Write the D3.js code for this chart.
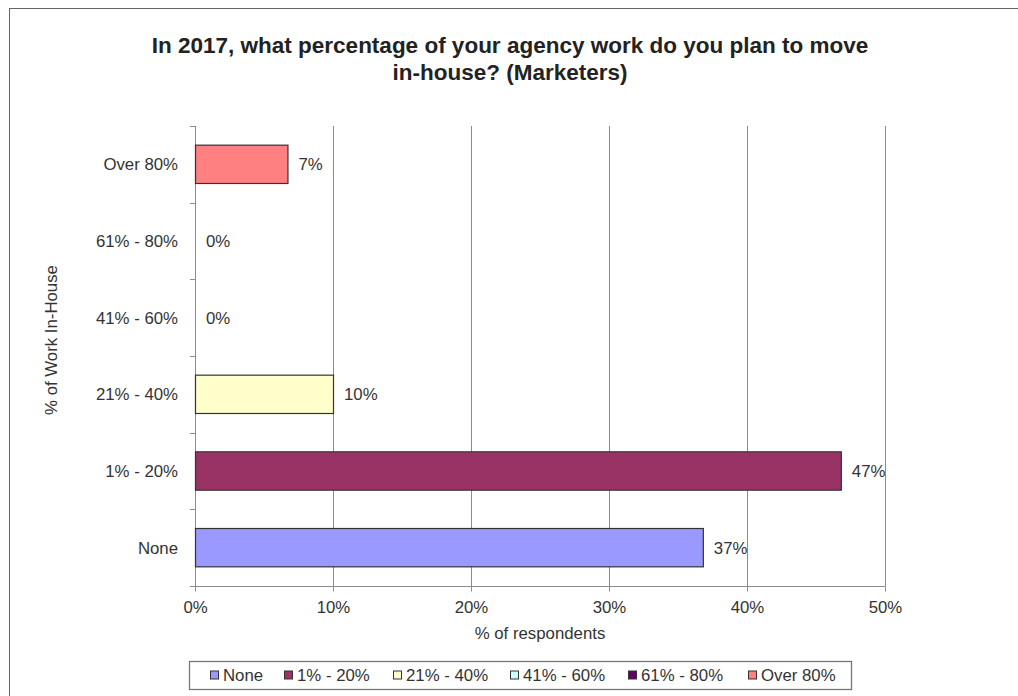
<!DOCTYPE html>
<html>
<head>
<meta charset="utf-8">
<script src="https://cdn.jsdelivr.net/npm/d3@7"></script>
<style>
  html, body { margin: 0; padding: 0; background: #fff; }
  svg { display: block; font-family: "Liberation Sans", Arial, sans-serif; }
</style>
</head>
<body>
<svg id="chart" width="1018" height="696"></svg>
<script>
// Survey answers, bottom to top on the category axis
const categories = ["None", "1% - 20%", "21% - 40%", "41% - 60%", "61% - 80%", "Over 80%"];
const values = [36.8, 46.8, 10.0, 0, 0, 6.7];
const barColors = ["#9999FF", "#993366", "#FFFFCC", "#CCFFFF", "#660066", "#FF8080"];
const xTicks = [0, 10, 20, 30, 40, 50];
const titleLines = ["In 2017, what percentage of your agency work do you plan to move", "in-house? (Marketers)"];

const svg = d3.select("#chart");
const margin = { left: 195, right: 133, top: 126, bottom: 110 };
const W = 1018, H = 696;
const plotW = W - margin.left - margin.right;
const plotH = H - margin.top - margin.bottom;
const labelSize = 16.8;
const textColor = "#333";
const lineColor = "#8c8c8c";

// outer frame
svg.append("rect")
  .attr("x", 9.5).attr("y", 8.5)
  .attr("width", W + 10).attr("height", H + 10)
  .attr("fill", "none").attr("stroke", "#666").attr("stroke-width", 1);

// title
svg.append("g").selectAll("text").data(titleLines).join("text")
  .attr("x", 510).attr("y", (d, i) => 53 + i * 27)
  .attr("text-anchor", "middle")
  .attr("font-size", 22.5).attr("font-weight", "bold").attr("fill", "#222")
  .text(d => d);

const x = d3.scaleLinear().domain([0, 50]).range([0, plotW]);
const y = d3.scaleBand().domain(categories.slice().reverse()).range([0, plotH]).paddingInner(0.5).paddingOuter(0.25);
const yEdges = d3.scaleLinear().domain([0, categories.length]).range([0, plotH]);

const g = svg.append("g").attr("transform", `translate(${margin.left},${margin.top})`);

// vertical gridlines
g.append("g").selectAll("line").data(xTicks.slice(1)).join("line")
  .attr("x1", d => Math.round(x(d)) + 0.5).attr("x2", d => Math.round(x(d)) + 0.5)
  .attr("y1", 0).attr("y2", plotH)
  .attr("stroke", lineColor).attr("stroke-width", 1);

// x axis
const xAxis = g.append("g").attr("transform", `translate(0,${plotH + 0.5})`)
  .call(d3.axisBottom(x).tickValues(xTicks).tickFormat(d => d + "%").tickSize(5).tickPadding(10));
xAxis.select(".domain").attr("stroke", lineColor).attr("d", `M0.5,0H${plotW + 0.5}`);
xAxis.selectAll(".tick line").attr("stroke", lineColor);
xAxis.selectAll("text").attr("font-size", labelSize).attr("fill", textColor).attr("font-family", "Liberation Sans, Arial, sans-serif");

// y axis line and ticks at category boundaries
g.append("line").attr("x1", 0.5).attr("x2", 0.5).attr("y1", 0).attr("y2", plotH + 5)
  .attr("stroke", lineColor);
g.append("g").selectAll("line").data(d3.range(categories.length + 1)).join("line")
  .attr("x1", -5).attr("x2", 0.5)
  .attr("y1", d => Math.round(yEdges(d)) + 0.5).attr("y2", d => Math.round(yEdges(d)) + 0.5)
  .attr("stroke", lineColor);

// category labels
g.append("g").selectAll("text").data(categories).join("text")
  .attr("x", -17).attr("y", d => y(d) + y.bandwidth() / 2)
  .attr("dy", "0.35em").attr("text-anchor", "end")
  .attr("font-size", labelSize).attr("fill", textColor)
  .text(d => d);

// bars
g.append("g").selectAll("rect").data(categories.map((c, i) => ({ c, v: values[i], color: barColors[i] })).filter(d => d.v > 0))
  .join("rect")
  .attr("x", 0.5).attr("y", d => y(d.c))
  .attr("width", d => x(d.v)).attr("height", y.bandwidth())
  .attr("fill", d => d.color).attr("stroke", "#333").attr("stroke-width", 1.2);

// value labels
g.append("g").selectAll("text").data(categories.map((c, i) => ({ c, v: values[i] })))
  .join("text")
  .attr("x", d => x(d.v) + 11).attr("y", d => y(d.c) + y.bandwidth() / 2)
  .attr("dy", "0.35em")
  .attr("font-size", labelSize).attr("fill", textColor)
  .text(d => Math.round(d.v) + "%");

// axis titles
svg.append("text").attr("x", margin.left + plotW / 2).attr("y", 639)
  .attr("text-anchor", "middle").attr("font-size", labelSize).attr("fill", textColor)
  .text("% of respondents");
svg.append("text").attr("transform", `translate(57,340) rotate(-90)`)
  .attr("text-anchor", "middle").attr("font-size", labelSize).attr("fill", textColor)
  .text("% of Work In-House");

// legend
const legend = svg.append("g");
legend.append("rect").attr("x", 189.5).attr("y", 661.5).attr("width", 662).attr("height", 28)
  .attr("fill", "#fff").attr("stroke", "#777").attr("stroke-width", 1.3);
const legendX = [210, 284, 393, 510, 628, 748];
const items = legend.selectAll("g.item").data(categories).join("g").attr("class", "item")
  .attr("transform", (d, i) => `translate(${legendX[i]},675.5)`);
items.append("rect").attr("x", 0.5).attr("y", -4.5).attr("width", 8).attr("height", 8)
  .attr("fill", (d, i) => barColors[i]).attr("stroke", "#333").attr("stroke-width", 1);
items.append("text").attr("x", 13).attr("y", 0).attr("dy", "0.35em")
  .attr("font-size", labelSize).attr("fill", textColor).text(d => d);
</script>
</body>
</html>
